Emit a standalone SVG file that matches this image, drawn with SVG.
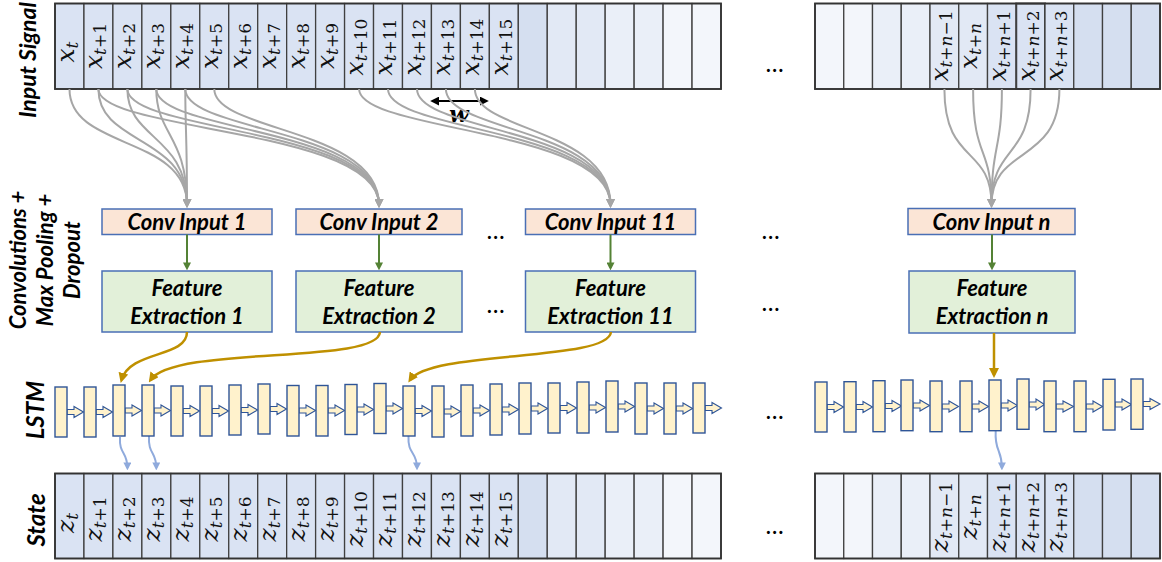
<svg xmlns="http://www.w3.org/2000/svg" width="1162" height="562" viewBox="0 0 1162 562">
<style>
.bg{fill:#fff}
.cell{stroke:#404040;stroke-width:1.3}
.outer{fill:none;stroke:#333;stroke-width:1.8}
.c0{fill:#dae3f3}.c1{fill:#d5dff0}.c2{fill:#e2e9f5}.c3{fill:#eaeff8}.c4{fill:#f3f6fb}
.m{font-family:"DejaVu Serif",serif;font-style:italic;font-size:25px;text-anchor:middle;fill:#111}
.s{font-size:17px}
.u{font-style:normal}
.lbl{font-family:Lato,"Liberation Sans",sans-serif;font-weight:bold;font-style:italic;text-anchor:middle;fill:#000}
.box{font-family:Lato,"Liberation Sans",sans-serif;font-weight:bold;font-style:italic;text-anchor:middle;fill:#000;font-size:22px}
.conv{fill:#fbe5d6;stroke:#4a6fb5;stroke-width:1.5}
.fe{fill:#e2f0d9;stroke:#4a6fb5;stroke-width:1.5}
.lc{fill:#fff2cc;stroke:#2f5597;stroke-width:1.4}
.la{fill:#fff2cc;stroke:#2f5597;stroke-width:1.1;stroke-linejoin:miter}
.dots{font-family:Lato,"Liberation Sans",sans-serif;font-size:20px;font-weight:bold;letter-spacing:1.5px;fill:#000}
.g{fill:none;stroke:#a6a6a6;stroke-width:2;marker-end:url(#mg)}
.gr{fill:none;stroke:#548235;stroke-width:2;marker-end:url(#mgr)}
.or{fill:none;stroke:#bf9000;stroke-width:2.5;marker-end:url(#mor)}
.bl{fill:none;stroke:#8faadc;stroke-width:2;marker-end:url(#mbl)}
</style>
<defs>
<marker id="mg" viewBox="0 0 10 10" refX="7" refY="5" markerWidth="9" markerHeight="9" markerUnits="userSpaceOnUse" orient="auto"><path d="M0,0 L10,5 L0,10 z" fill="#a6a6a6"/></marker>
<marker id="mgr" viewBox="0 0 10 10" refX="7" refY="5" markerWidth="8" markerHeight="8" markerUnits="userSpaceOnUse" orient="auto"><path d="M0,0 L10,5 L0,10 z" fill="#548235"/></marker>
<marker id="mor" viewBox="0 0 10 10" refX="7" refY="5" markerWidth="10" markerHeight="10" markerUnits="userSpaceOnUse" orient="auto"><path d="M0,0 L10,5 L0,10 z" fill="#bf9000"/></marker>
<marker id="mbl" viewBox="0 0 10 10" refX="7" refY="5" markerWidth="8" markerHeight="8" markerUnits="userSpaceOnUse" orient="auto"><path d="M0,0 L10,5 L0,10 z" fill="#8faadc"/></marker>
<marker id="mk" viewBox="0 0 10 10" refX="8" refY="5" markerWidth="9" markerHeight="9" markerUnits="userSpaceOnUse" orient="auto-start-reverse"><path d="M0,0 L10,5 L0,10 z" fill="#000"/></marker>
</defs>
<rect class="bg" x="0" y="0" width="1162" height="562"/>

<!-- Row labels -->
<g id="labels">
<text class="lbl" font-size="23" transform="translate(36,60) rotate(-90)">Input Signal</text>
<text class="lbl" font-size="22" transform="translate(26,260) rotate(-90)">Convolutions +</text>
<text class="lbl" font-size="22" transform="translate(53,260) rotate(-90)">Max Pooling +</text>
<text class="lbl" font-size="22" transform="translate(80,260) rotate(-90)">Dropout</text>
<text class="lbl" font-size="24" transform="translate(44,410) rotate(-90)">LSTM</text>
<text class="lbl" font-size="24" transform="translate(45,520) rotate(-90)">State</text>
</g>

<!-- Input signal left -->
<g id="input-left">
<rect class="cell c0" x="55" y="3.5" width="28.96" height="85.5"/>
<rect class="cell c0" x="83.96" y="3.5" width="28.96" height="85.5"/>
<rect class="cell c0" x="112.91" y="3.5" width="28.96" height="85.5"/>
<rect class="cell c0" x="141.87" y="3.5" width="28.96" height="85.5"/>
<rect class="cell c0" x="170.83" y="3.5" width="28.96" height="85.5"/>
<rect class="cell c0" x="199.78" y="3.5" width="28.96" height="85.5"/>
<rect class="cell c0" x="228.74" y="3.5" width="28.96" height="85.5"/>
<rect class="cell c0" x="257.7" y="3.5" width="28.96" height="85.5"/>
<rect class="cell c0" x="286.66" y="3.5" width="28.96" height="85.5"/>
<rect class="cell c0" x="315.61" y="3.5" width="28.96" height="85.5"/>
<rect class="cell c0" x="344.57" y="3.5" width="28.96" height="85.5"/>
<rect class="cell c0" x="373.53" y="3.5" width="28.96" height="85.5"/>
<rect class="cell c0" x="402.48" y="3.5" width="28.96" height="85.5"/>
<rect class="cell c0" x="431.44" y="3.5" width="28.96" height="85.5"/>
<rect class="cell c0" x="460.4" y="3.5" width="28.96" height="85.5"/>
<rect class="cell c0" x="489.36" y="3.5" width="28.96" height="85.5"/>
<rect class="cell c1" x="518.31" y="3.5" width="28.96" height="85.5"/>
<rect class="cell c2" x="547.27" y="3.5" width="28.96" height="85.5"/>
<rect class="cell c2" x="576.23" y="3.5" width="28.96" height="85.5"/>
<rect class="cell c3" x="605.18" y="3.5" width="28.96" height="85.5"/>
<rect class="cell c3" x="634.14" y="3.5" width="28.96" height="85.5"/>
<rect class="cell c4" x="663.1" y="3.5" width="28.96" height="85.5"/>
<rect class="cell c4" x="692.05" y="3.5" width="28.96" height="85.5"/>
<rect class="outer" x="55" y="3.5" width="666" height="85.5"/>
<text class="m" transform="translate(73.5,52) rotate(-90)">x<tspan class="s" dy="4">t</tspan></text>
<text class="m" transform="translate(102.4,46) rotate(-90)">x<tspan class="s" dy="4">t</tspan><tspan class="s u">+1</tspan></text>
<text class="m" transform="translate(131.4,46) rotate(-90)">x<tspan class="s" dy="4">t</tspan><tspan class="s u">+2</tspan></text>
<text class="m" transform="translate(160.3,46) rotate(-90)">x<tspan class="s" dy="4">t</tspan><tspan class="s u">+3</tspan></text>
<text class="m" transform="translate(189.3,46) rotate(-90)">x<tspan class="s" dy="4">t</tspan><tspan class="s u">+4</tspan></text>
<text class="m" transform="translate(218.3,46) rotate(-90)">x<tspan class="s" dy="4">t</tspan><tspan class="s u">+5</tspan></text>
<text class="m" transform="translate(247.2,46) rotate(-90)">x<tspan class="s" dy="4">t</tspan><tspan class="s u">+6</tspan></text>
<text class="m" transform="translate(276.2,46) rotate(-90)">x<tspan class="s" dy="4">t</tspan><tspan class="s u">+7</tspan></text>
<text class="m" transform="translate(305.1,46) rotate(-90)">x<tspan class="s" dy="4">t</tspan><tspan class="s u">+8</tspan></text>
<text class="m" transform="translate(334.1,46) rotate(-90)">x<tspan class="s" dy="4">t</tspan><tspan class="s u">+9</tspan></text>
<text class="m" transform="translate(363.1,47) rotate(-90)">x<tspan class="s" dy="4">t</tspan><tspan class="s u">+10</tspan></text>
<text class="m" transform="translate(392,47) rotate(-90)">x<tspan class="s" dy="4">t</tspan><tspan class="s u">+11</tspan></text>
<text class="m" transform="translate(421,47) rotate(-90)">x<tspan class="s" dy="4">t</tspan><tspan class="s u">+12</tspan></text>
<text class="m" transform="translate(449.9,47) rotate(-90)">x<tspan class="s" dy="4">t</tspan><tspan class="s u">+13</tspan></text>
<text class="m" transform="translate(478.9,47) rotate(-90)">x<tspan class="s" dy="4">t</tspan><tspan class="s u">+14</tspan></text>
<text class="m" transform="translate(507.8,47) rotate(-90)">x<tspan class="s" dy="4">t</tspan><tspan class="s u">+15</tspan></text>
</g>

<!-- Input signal right -->
<g id="input-right">
<rect class="cell c4" x="815" y="3.5" width="28.75" height="85.5"/>
<rect class="cell c4" x="843.75" y="3.5" width="28.75" height="85.5"/>
<rect class="cell c3" x="872.5" y="3.5" width="28.75" height="85.5"/>
<rect class="cell c3" x="901.25" y="3.5" width="28.75" height="85.5"/>
<rect class="cell c2" x="930" y="3.5" width="28.75" height="85.5"/>
<rect class="cell c2" x="958.75" y="3.5" width="28.75" height="85.5"/>
<rect class="cell c0" x="987.5" y="3.5" width="28.75" height="85.5"/>
<rect class="cell c0" x="1016.25" y="3.5" width="28.75" height="85.5" style="stroke-width:2"/>
<rect class="cell c0" x="1045" y="3.5" width="28.75" height="85.5"/>
<rect class="cell c1" x="1073.75" y="3.5" width="28.75" height="85.5"/>
<rect class="cell c1" x="1102.5" y="3.5" width="28.75" height="85.5"/>
<rect class="cell c1" x="1131.25" y="3.5" width="28.75" height="85.5"/>
<rect class="outer" x="815" y="3.5" width="345" height="85.5"/>
<text class="m" transform="translate(948.4,46) rotate(-90)">x<tspan class="s" dy="4">t</tspan><tspan class="s u">+</tspan><tspan class="s">n</tspan><tspan class="s u">−1</tspan></text>
<text class="m" transform="translate(977.1,46) rotate(-90)">x<tspan class="s" dy="4">t</tspan><tspan class="s u">+</tspan><tspan class="s">n</tspan></text>
<text class="m" transform="translate(1005.9,46) rotate(-90)">x<tspan class="s" dy="4">t</tspan><tspan class="s u">+</tspan><tspan class="s">n</tspan><tspan class="s u">+1</tspan></text>
<text class="m" transform="translate(1034.6,46) rotate(-90)">x<tspan class="s" dy="4">t</tspan><tspan class="s u">+</tspan><tspan class="s">n</tspan><tspan class="s u">+2</tspan></text>
<text class="m" transform="translate(1063.4,46) rotate(-90)">x<tspan class="s" dy="4">t</tspan><tspan class="s u">+</tspan><tspan class="s">n</tspan><tspan class="s u">+3</tspan></text>
</g>

<!-- window w -->
<g id="window">
<line x1="432" y1="101" x2="487" y2="101" stroke="#000" stroke-width="1.8" marker-start="url(#mk)" marker-end="url(#mk)"/>
<text x="459" y="122" style="font-family:'DejaVu Serif',serif;font-weight:bold;font-style:italic;font-size:23px;text-anchor:middle">w</text>
</g>

<!-- Conv inputs -->
<g id="conv1"><rect class="conv" x="102" y="209" width="170" height="25.5"/><text class="box" x="187" y="229.5">Conv Input 1</text></g>
<g id="conv2"><rect class="conv" x="296" y="209" width="166" height="25.5"/><text class="box" x="379" y="229.5">Conv Input 2</text></g>
<g id="conv11"><rect class="conv" x="525.5" y="209" width="170" height="25.5"/><text class="box" x="610.5" y="229.5">Conv Input 11</text></g>
<g id="convn"><rect class="conv" x="908" y="208.5" width="167" height="26"/><text class="box" x="991.5" y="229.5">Conv Input n</text></g>

<!-- Feature extraction -->
<g id="fe1"><rect class="fe" x="102" y="271" width="170" height="61"/><text class="box" x="187" y="296">Feature</text><text class="box" x="187" y="324">Extraction 1</text></g>
<g id="fe2"><rect class="fe" x="296" y="271" width="166" height="61"/><text class="box" x="379" y="296">Feature</text><text class="box" x="379" y="324">Extraction 2</text></g>
<g id="fe11"><rect class="fe" x="525.5" y="271" width="170" height="61"/><text class="box" x="610.5" y="296">Feature</text><text class="box" x="610.5" y="324">Extraction 11</text></g>
<g id="fen"><rect class="fe" x="909" y="271" width="166" height="62"/><text class="box" x="992" y="296">Feature</text><text class="box" x="992" y="324">Extraction n</text></g>

<!-- dots -->
<g id="ellipses">
<text class="dots" x="766" y="72">...</text>
<text class="dots" x="487" y="239">...</text>
<text class="dots" x="762" y="239">...</text>
<text class="dots" x="487" y="313">...</text>
<text class="dots" x="762" y="311">...</text>
<text class="dots" x="766" y="419">...</text>
<text class="dots" x="766" y="534">...</text>
</g>

<!-- connectors -->
<g id="connectors">
<g id="gray-links">
<path class="g" d="M69.5 89 C69.5 150 187 135 187 205"/>
<path class="g" d="M98.4 89 C98.4 145 187 135 187 205"/>
<path class="g" d="M127.4 89 C127.4 140 187 135 187 205"/>
<path class="g" d="M156.3 89 C156.3 135 187 135 187 205"/>
<path class="g" d="M185.3 89 C185.3 130 187 135 187 205"/>
<path class="g" d="M98.4 89 C98.4 132 379 128 379 205"/>
<path class="g" d="M127.4 89 C127.4 132 379 128 379 205"/>
<path class="g" d="M156.3 89 C156.3 132 379 128 379 205"/>
<path class="g" d="M185.3 89 C185.3 132 379 128 379 205"/>
<path class="g" d="M214.3 89 C214.3 132 379 128 379 205"/>
<path class="g" d="M359.1 89 C359.1 132 610.5 128 610.5 205"/>
<path class="g" d="M388 89 C388 132 610.5 128 610.5 205"/>
<path class="g" d="M417 89 C417 132 610.5 128 610.5 205"/>
<path class="g" d="M445.9 89 C445.9 132 610.5 128 610.5 205"/>
<path class="g" d="M474.9 89 C474.9 132 610.5 128 610.5 205"/>
<path class="g" d="M944.4 89 C944.4 165 991.5 145 991.5 205"/>
<path class="g" d="M973.1 89 C973.1 160 991.5 145 991.5 205"/>
<path class="g" d="M1001.9 89 C1001.9 150 991.5 145 991.5 205"/>
<path class="g" d="M1030.6 89 C1030.6 160 991.5 145 991.5 205"/>
<path class="g" d="M1059.4 89 C1059.4 165 991.5 145 991.5 205"/>
</g>
<g id="green-links">
<path class="gr" d="M187 234.5 V268"/>
<path class="gr" d="M379 234.5 V268"/>
<path class="gr" d="M610.5 234.5 V268"/>
<path class="gr" d="M992 234.5 V268"/>
</g>
<g id="orange-links">
<path class="or" d="M187 332 C187 358 130 350 121.5 380"/>
<path class="or" d="M380 332 C378 365 175 345 150.5 380"/>
<path class="or" d="M611 332 C608 362 430 350 410 380"/>
<path class="or" d="M994 333 V375"/>
</g>
<g id="blue-links">
<path class="bl" d="M120 437 C119 455 127.4 451 127.4 468"/>
<path class="bl" d="M149 436 C148 455 156.3 451 156.3 468"/>
<path class="bl" d="M408.5 436 C407.5 455 417 451 417 468"/>
<path class="bl" d="M995.7 431 C994.5 452 1001.9 449 1001.9 468"/>
</g>
<g id="lstm-links">
<polygon class="la" points="67,409.5 74,409.5 74,406.5 83.5,412 74,417.5 74,414.5 67,414.5"/>
<polygon class="la" points="96,409.5 103,409.5 103,406.5 112.5,412 103,417.5 103,414.5 96,414.5"/>
<polygon class="la" points="125,408 132,408 132,405 141.5,410.5 132,416 132,413 125,413"/>
<polygon class="la" points="154,408 161,408 161,405 170.5,410.5 161,416 161,413 154,413"/>
<polygon class="la" points="183,408.5 190,408.5 190,405.5 199.5,411 190,416.5 190,413.5 183,413.5"/>
<polygon class="la" points="212,408.5 219,408.5 219,405.5 228.5,411 219,416.5 219,413.5 212,413.5"/>
<polygon class="la" points="241,407.5 248,407.5 248,404.5 257.5,410 248,415.5 248,412.5 241,412.5"/>
<polygon class="la" points="270,406.5 277,406.5 277,403.5 286.5,409 277,414.5 277,411.5 270,411.5"/>
<polygon class="la" points="299,408 306,408 306,405 315.5,410.5 306,416 306,413 299,413"/>
<polygon class="la" points="328,408 335,408 335,405 344.5,410.5 335,416 335,413 328,413"/>
<polygon class="la" points="357,407 364,407 364,404 373.5,409.5 364,415 364,412 357,412"/>
<polygon class="la" points="386,406 393,406 393,403 402.5,408.5 393,414 393,411 386,411"/>
<polygon class="la" points="415,408.5 422,408.5 422,405.5 431.5,411 422,416.5 422,413.5 415,413.5"/>
<polygon class="la" points="444,409 451,409 451,406 460.5,411.5 451,417 451,414 444,414"/>
<polygon class="la" points="473,408 480,408 480,405 489.5,410.5 480,416 480,413 473,413"/>
<polygon class="la" points="502,407 509,407 509,404 518.5,409.5 509,415 509,412 502,412"/>
<polygon class="la" points="531,406 538,406 538,403 547.5,408.5 538,414 538,411 531,411"/>
<polygon class="la" points="560,405.5 567,405.5 567,402.5 576.5,408 567,413.5 567,410.5 560,410.5"/>
<polygon class="la" points="589,405 596,405 596,402 605.5,407.5 596,413 596,410 589,410"/>
<polygon class="la" points="618,404 625,404 625,401 634.5,406.5 625,412 625,409 618,409"/>
<polygon class="la" points="647,406 654,406 654,403 663.5,408.5 654,414 654,411 647,411"/>
<polygon class="la" points="676,406 683,406 683,403 692.5,408.5 683,414 683,411 676,411"/>
<polygon class="la" points="705,405.5 712,405.5 712,402.5 721.5,408 712,413.5 712,410.5 705,410.5"/>
<polygon class="la" points="827,404.5 834,404.5 834,401.5 843.5,407 834,412.5 834,409.5 827,409.5"/>
<polygon class="la" points="856,404.5 863,404.5 863,401.5 872.5,407 863,412.5 863,409.5 856,409.5"/>
<polygon class="la" points="885,403.5 892,403.5 892,400.5 901.5,406 892,411.5 892,408.5 885,408.5"/>
<polygon class="la" points="913,403 920,403 920,400 929.5,405.5 920,411 920,408 913,408"/>
<polygon class="la" points="942,404 949,404 949,401 958.5,406.5 949,412 949,409 942,409"/>
<polygon class="la" points="972,404 979,404 979,401 988.5,406.5 979,412 979,409 972,409"/>
<polygon class="la" points="1001,403 1008,403 1008,400 1017.5,405.5 1008,411 1008,408 1001,408"/>
<polygon class="la" points="1029,402 1036,402 1036,399 1044.5,404.5 1036,410 1036,407 1029,407"/>
<polygon class="la" points="1056,404 1063,404 1063,401 1073.5,406.5 1063,412 1063,409 1056,409"/>
<polygon class="la" points="1086,404 1093,404 1093,401 1102.5,406.5 1093,412 1093,409 1086,409"/>
<polygon class="la" points="1115,402 1122,402 1122,399 1131.5,404.5 1122,410 1122,407 1115,407"/>
<polygon class="la" points="1143,401.5 1150,401.5 1150,398.5 1160,404 1150,409.5 1150,406.5 1143,406.5"/>
</g>
</g>

<!-- LSTM cells -->
<g id="lstm-left">
<rect class="lc" x="55" y="387" width="12" height="50"/>
<rect class="lc" x="84" y="387" width="12" height="50"/>
<rect class="lc" x="113" y="385" width="12" height="51"/>
<rect class="lc" x="142" y="385" width="12" height="51"/>
<rect class="lc" x="171" y="386" width="12" height="50"/>
<rect class="lc" x="200" y="386" width="12" height="50"/>
<rect class="lc" x="229" y="385" width="12" height="50"/>
<rect class="lc" x="258" y="384" width="12" height="50"/>
<rect class="lc" x="287" y="385.5" width="12" height="50.5"/>
<rect class="lc" x="316" y="385.5" width="12" height="50.5"/>
<rect class="lc" x="345" y="384.5" width="12" height="50"/>
<rect class="lc" x="374" y="383.5" width="12" height="50"/>
<rect class="lc" x="403" y="386" width="12" height="50"/>
<rect class="lc" x="432" y="386" width="12" height="51"/>
<rect class="lc" x="461" y="385" width="12" height="51"/>
<rect class="lc" x="490" y="384" width="12" height="51"/>
<rect class="lc" x="519" y="383" width="12" height="51"/>
<rect class="lc" x="548" y="383" width="12" height="50"/>
<rect class="lc" x="577" y="382" width="12" height="51"/>
<rect class="lc" x="606" y="381" width="12" height="51"/>
<rect class="lc" x="635" y="383" width="12" height="51"/>
<rect class="lc" x="664" y="383" width="12" height="51"/>
<rect class="lc" x="693" y="383" width="12" height="50"/>
</g>
<g id="lstm-right">
<rect class="lc" x="815" y="382" width="12" height="50"/>
<rect class="lc" x="844" y="381.7" width="12" height="50.3"/>
<rect class="lc" x="873" y="380.7" width="12" height="51"/>
<rect class="lc" x="901" y="380" width="12" height="50.7"/>
<rect class="lc" x="930" y="381" width="12" height="50.7"/>
<rect class="lc" x="960" y="381" width="12" height="50.7"/>
<rect class="lc" x="989" y="380" width="12" height="50.7"/>
<rect class="lc" x="1017" y="379" width="12" height="50.3"/>
<rect class="lc" x="1044" y="381" width="12" height="50.7"/>
<rect class="lc" x="1074" y="381" width="12" height="50.7"/>
<rect class="lc" x="1103" y="379.3" width="12" height="50.7"/>
<rect class="lc" x="1131" y="379" width="12" height="50.3"/>
</g>

<!-- State left -->
<g id="state-left">
<rect class="cell c0" x="55" y="473.5" width="28.96" height="85"/>
<rect class="cell c0" x="83.96" y="473.5" width="28.96" height="85"/>
<rect class="cell c0" x="112.91" y="473.5" width="28.96" height="85"/>
<rect class="cell c0" x="141.87" y="473.5" width="28.96" height="85"/>
<rect class="cell c0" x="170.83" y="473.5" width="28.96" height="85"/>
<rect class="cell c0" x="199.78" y="473.5" width="28.96" height="85"/>
<rect class="cell c0" x="228.74" y="473.5" width="28.96" height="85"/>
<rect class="cell c0" x="257.7" y="473.5" width="28.96" height="85"/>
<rect class="cell c0" x="286.66" y="473.5" width="28.96" height="85"/>
<rect class="cell c0" x="315.61" y="473.5" width="28.96" height="85"/>
<rect class="cell c0" x="344.57" y="473.5" width="28.96" height="85"/>
<rect class="cell c0" x="373.53" y="473.5" width="28.96" height="85"/>
<rect class="cell c0" x="402.48" y="473.5" width="28.96" height="85"/>
<rect class="cell c0" x="431.44" y="473.5" width="28.96" height="85"/>
<rect class="cell c0" x="460.4" y="473.5" width="28.96" height="85"/>
<rect class="cell c0" x="489.36" y="473.5" width="28.96" height="85"/>
<rect class="cell c1" x="518.31" y="473.5" width="28.96" height="85"/>
<rect class="cell c2" x="547.27" y="473.5" width="28.96" height="85"/>
<rect class="cell c2" x="576.23" y="473.5" width="28.96" height="85"/>
<rect class="cell c3" x="605.18" y="473.5" width="28.96" height="85"/>
<rect class="cell c3" x="634.14" y="473.5" width="28.96" height="85"/>
<rect class="cell c4" x="663.1" y="473.5" width="28.96" height="85"/>
<rect class="cell c4" x="692.05" y="473.5" width="28.96" height="85"/>
<rect class="outer" x="55" y="473.5" width="666" height="85"/>
<text class="m" transform="translate(73.5,523) rotate(-90)">z<tspan class="s" dy="4">t</tspan></text>
<text class="m" transform="translate(102.4,519) rotate(-90)">z<tspan class="s" dy="4">t</tspan><tspan class="s u">+1</tspan></text>
<text class="m" transform="translate(131.4,519) rotate(-90)">z<tspan class="s" dy="4">t</tspan><tspan class="s u">+2</tspan></text>
<text class="m" transform="translate(160.3,519) rotate(-90)">z<tspan class="s" dy="4">t</tspan><tspan class="s u">+3</tspan></text>
<text class="m" transform="translate(189.3,519) rotate(-90)">z<tspan class="s" dy="4">t</tspan><tspan class="s u">+4</tspan></text>
<text class="m" transform="translate(218.3,519) rotate(-90)">z<tspan class="s" dy="4">t</tspan><tspan class="s u">+5</tspan></text>
<text class="m" transform="translate(247.2,519) rotate(-90)">z<tspan class="s" dy="4">t</tspan><tspan class="s u">+6</tspan></text>
<text class="m" transform="translate(276.2,519) rotate(-90)">z<tspan class="s" dy="4">t</tspan><tspan class="s u">+7</tspan></text>
<text class="m" transform="translate(305.1,519) rotate(-90)">z<tspan class="s" dy="4">t</tspan><tspan class="s u">+8</tspan></text>
<text class="m" transform="translate(334.1,519) rotate(-90)">z<tspan class="s" dy="4">t</tspan><tspan class="s u">+9</tspan></text>
<text class="m" transform="translate(363.1,519) rotate(-90)">z<tspan class="s" dy="4">t</tspan><tspan class="s u">+10</tspan></text>
<text class="m" transform="translate(392,519) rotate(-90)">z<tspan class="s" dy="4">t</tspan><tspan class="s u">+11</tspan></text>
<text class="m" transform="translate(421,519) rotate(-90)">z<tspan class="s" dy="4">t</tspan><tspan class="s u">+12</tspan></text>
<text class="m" transform="translate(449.9,519) rotate(-90)">z<tspan class="s" dy="4">t</tspan><tspan class="s u">+13</tspan></text>
<text class="m" transform="translate(478.9,519) rotate(-90)">z<tspan class="s" dy="4">t</tspan><tspan class="s u">+14</tspan></text>
<text class="m" transform="translate(507.8,519) rotate(-90)">z<tspan class="s" dy="4">t</tspan><tspan class="s u">+15</tspan></text>
</g>

<!-- State right -->
<g id="state-right">
<rect class="cell c4" x="815" y="473.5" width="28.75" height="85"/>
<rect class="cell c4" x="843.75" y="473.5" width="28.75" height="85"/>
<rect class="cell c3" x="872.5" y="473.5" width="28.75" height="85"/>
<rect class="cell c3" x="901.25" y="473.5" width="28.75" height="85"/>
<rect class="cell c2" x="930" y="473.5" width="28.75" height="85"/>
<rect class="cell c2" x="958.75" y="473.5" width="28.75" height="85"/>
<rect class="cell c0" x="987.5" y="473.5" width="28.75" height="85"/>
<rect class="cell c0" x="1016.25" y="473.5" width="28.75" height="85"/>
<rect class="cell c0" x="1045" y="473.5" width="28.75" height="85"/>
<rect class="cell c1" x="1073.75" y="473.5" width="28.75" height="85"/>
<rect class="cell c1" x="1102.5" y="473.5" width="28.75" height="85"/>
<rect class="cell c1" x="1131.25" y="473.5" width="28.75" height="85"/>
<rect class="outer" x="815" y="473.5" width="345" height="85"/>
<text class="m" transform="translate(948.4,517) rotate(-90)">z<tspan class="s" dy="4">t</tspan><tspan class="s u">+</tspan><tspan class="s">n</tspan><tspan class="s u">−1</tspan></text>
<text class="m" transform="translate(977.1,517) rotate(-90)">z<tspan class="s" dy="4">t</tspan><tspan class="s u">+</tspan><tspan class="s">n</tspan></text>
<text class="m" transform="translate(1005.9,517) rotate(-90)">z<tspan class="s" dy="4">t</tspan><tspan class="s u">+</tspan><tspan class="s">n</tspan><tspan class="s u">+1</tspan></text>
<text class="m" transform="translate(1034.6,517) rotate(-90)">z<tspan class="s" dy="4">t</tspan><tspan class="s u">+</tspan><tspan class="s">n</tspan><tspan class="s u">+2</tspan></text>
<text class="m" transform="translate(1063.4,517) rotate(-90)">z<tspan class="s" dy="4">t</tspan><tspan class="s u">+</tspan><tspan class="s">n</tspan><tspan class="s u">+3</tspan></text>
</g>
</svg>
